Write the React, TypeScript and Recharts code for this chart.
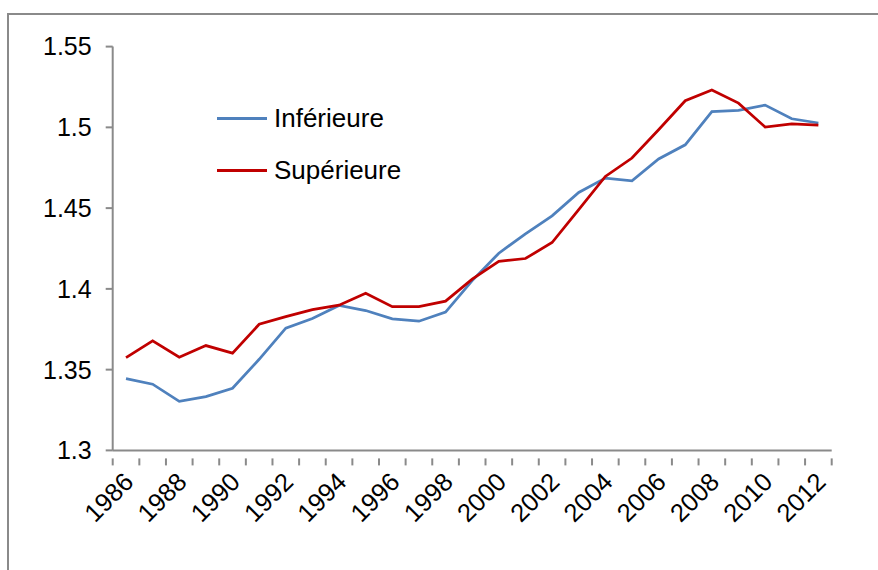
import { Line, LineChart, XAxis, YAxis } from "recharts";

const years = [
  1986, 1987, 1988, 1989, 1990, 1991, 1992, 1993, 1994, 1995, 1996, 1997, 1998, 1999,
  2000, 2001, 2002, 2003, 2004, 2005, 2006, 2007, 2008, 2009, 2010, 2011, 2012,
];

const inferieure = [
  1.3444, 1.341, 1.3304, 1.3333, 1.3385, 1.3564, 1.3757, 1.3816, 1.3897, 1.3866, 1.3814, 1.38, 1.3856, 1.4051,
  1.4221, 1.4341, 1.4452, 1.4597, 1.4686, 1.4669, 1.4804, 1.4892, 1.5097, 1.5105, 1.5138, 1.5053, 1.5027,
];

const superieure = [
  1.3574, 1.3678, 1.3577, 1.3649, 1.3602, 1.3781, 1.3828, 1.3872, 1.3899, 1.3973, 1.389, 1.389, 1.3924, 1.406,
  1.417, 1.4188, 1.4287, 1.449, 1.4696, 1.481, 1.4985, 1.5165, 1.5231, 1.515, 1.5002, 1.5022, 1.5014,
];

const yTicks = [1.3, 1.35, 1.4, 1.45, 1.5, 1.55];

const series = [
  { key: "inf", name: "Inférieure", color: "#4F81BD" },
  { key: "sup", name: "Supérieure", color: "#C00000" },
];

const FONT = '"Liberation Sans", Arial, sans-serif';
const AXIS = "#8a8a8a";

// category i sits in the middle of band [i, i+1]
const data = years.map((year, i) => ({
  pos: i + 0.5,
  year,
  inf: inferieure[i],
  sup: superieure[i],
}));

const xTicks: number[] = [];
for (let i = 0; i <= years.length * 2; i++) xTicks.push(i / 2);

function XTick(props: any) {
  const { x, y, payload } = props;
  const v = payload.value as number;
  if (Number.isInteger(v)) {
    return <line x1={x} y1={y} x2={x} y2={y + 7} stroke={AXIS} strokeWidth={2} />;
  }
  const year = years[Math.floor(v)];
  if (year % 2 !== 0) return <g />;
  const tx = x + 9;
  const ty = y + 25;
  return (
    <text
      x={tx}
      y={ty}
      textAnchor="end"
      fontSize={25.5}
      fontFamily={FONT}
      fill="#000"
      transform={`rotate(-45, ${tx}, ${ty})`}
    >
      {year}
    </text>
  );
}

function LegendBox() {
  return (
    <div style={{ position: "absolute", left: 217, top: 92, fontFamily: FONT, fontSize: 26, color: "#000" }}>
      {series.map((s) => (
        <div key={s.key} style={{ display: "flex", alignItems: "center", height: 52 }}>
          <div style={{ width: 50, height: 3, background: s.color, marginRight: 7 }} />
          <span>{s.name}</span>
        </div>
      ))}
    </div>
  );
}

export default function App() {
  return (
    <div style={{ position: "absolute", left: 0, top: 0, width: 878, height: 570, overflow: "hidden", background: "#fff" }}>
      <div
        style={{
          position: "absolute",
          left: 7,
          top: 13,
          width: 880,
          height: 570,
          borderTop: `2px solid ${AXIS}`,
          borderLeft: `2px solid ${AXIS}`,
        }}
      />
      <div style={{ position: "absolute", left: 0, top: 0 }}>
        <LineChart width={878} height={570} data={data} margin={{ top: 46.6, right: 46.3, left: 52.7, bottom: 19.6 }}>
          <XAxis
            dataKey="pos"
            type="number"
            domain={[0, years.length]}
            ticks={xTicks}
            interval={0}
            allowDataOverflow
            height={100}
            axisLine={{ stroke: AXIS, strokeWidth: 2 }}
            tickLine={false}
            tick={<XTick />}
          />
          <YAxis
            domain={[1.3, 1.55]}
            ticks={yTicks}
            width={60}
            allowDataOverflow
            axisLine={{ stroke: AXIS, strokeWidth: 2 }}
            tickLine={{ stroke: AXIS, strokeWidth: 2 }}
            tickSize={7}
            tickMargin={14}
            tick={{ fill: "#000", fontSize: 25, fontFamily: FONT }}
          />
          {series.map((s) => (
            <Line
              key={s.key}
              type="linear"
              dataKey={s.key}
              name={s.name}
              stroke={s.color}
              strokeWidth={2.75}
              dot={false}
              activeDot={false}
              isAnimationActive={false}
            />
          ))}
        </LineChart>
      </div>
      <LegendBox />
    </div>
  );
}
